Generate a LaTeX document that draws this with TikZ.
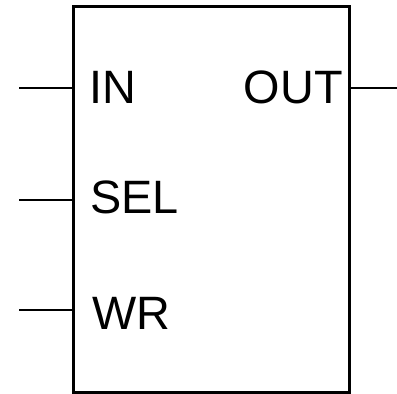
\documentclass[tikz,border=0pt]{standalone}
\usepackage{fontspec}
\setmainfont{Liberation Sans}
\usetikzlibrary{positioning}

\begin{document}
\begin{tikzpicture}[
  x=1bp,y=-1bp,
  blockbox/.style={draw,line width=3bp,minimum width=275bp,minimum height=386bp,inner sep=0pt},
  portlabel/.style={inner sep=0pt,font=\fontsize{47}{50}\selectfont},
  wire/.style={line width=1.5bp}
]
\useasboundingbox (0,0) rectangle (397,394);
\node[blockbox] (box) at (211.5,199) {};

\node[portlabel,anchor=base west] (in) at (89,103) {IN};
\node[portlabel,anchor=base west] (sel) at (90,213) {SEL};
\node[portlabel,anchor=base west] (wr) at (92,329) {WR};
\node[portlabel,anchor=base east] (out) at (343,103) {OUT};

\coordinate (pin) at (19,88);
\coordinate (psel) at (19,200);
\coordinate (pwr) at (19,310);
\coordinate (pout) at (397,88);

\draw[wire] (pin) -- (pin -| box.west);
\draw[wire] (psel) -- (psel -| box.west);
\draw[wire] (pwr) -- (pwr -| box.west);
\draw[wire] (pout -| box.east) -- (pout);
\end{tikzpicture}
\end{document}
